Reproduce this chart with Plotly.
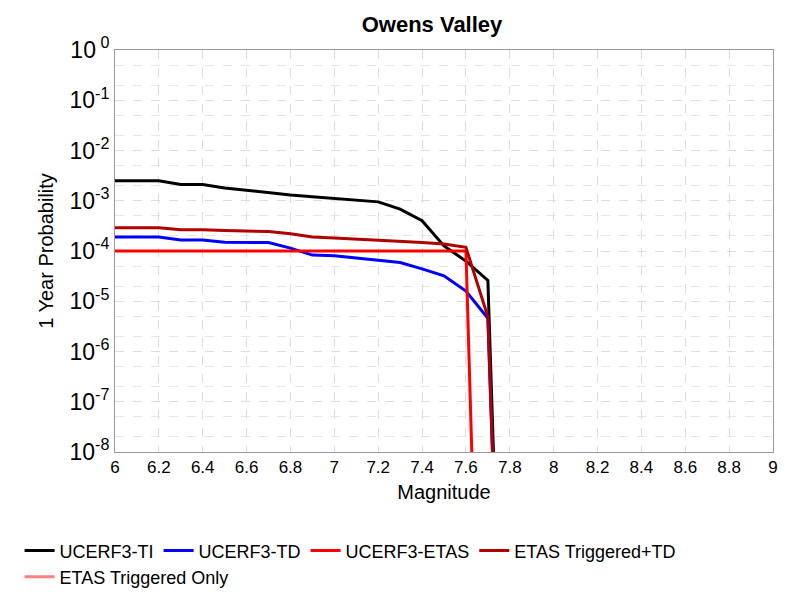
import plotly.graph_objects as go

mags = [6.0, 6.1, 6.2, 6.3, 6.4, 6.5, 6.6, 6.7, 6.8, 6.9, 7.0, 7.1, 7.2, 7.3, 7.4, 7.5, 7.6, 7.7, 7.8]

ucerf3_ti = [2.5e-3, 2.5e-3, 2.5e-3, 2.1e-3, 2.1e-3, 1.8e-3, 1.6e-3, 1.45e-3, 1.3e-3, 1.2e-3,
             1.12e-3, 1.05e-3, 9.5e-4, 6.8e-4, 4.0e-4, 1.26e-4, 6.3e-5, 2.6e-5, 1e-18]
ucerf3_td = [1.9e-4, 1.9e-4, 1.9e-4, 1.65e-4, 1.65e-4, 1.5e-4, 1.48e-4, 1.47e-4, 1.14e-4, 8.3e-5,
             8.0e-5, 7.2e-5, 6.6e-5, 5.9e-5, 4.4e-5, 3.2e-5, 1.6e-5, 4.6e-6, 1e-18]
ucerf3_etas = [1.0e-4] * 17 + [1e-19, 1e-19]
etas_trig_td = [2.9e-4, 2.9e-4, 2.9e-4, 2.65e-4, 2.65e-4, 2.55e-4, 2.5e-4, 2.45e-4, 2.2e-4, 1.9e-4,
                1.82e-4, 1.74e-4, 1.65e-4, 1.58e-4, 1.47e-4, 1.38e-4, 1.18e-4, 4.9e-6, 1e-18]
etas_trig_only = [None] * len(mags)

series = [
    ("UCERF3-TI", ucerf3_ti, "black", "legend"),
    ("UCERF3-TD", ucerf3_td, "blue", "legend"),
    ("UCERF3-ETAS", ucerf3_etas, "red", "legend"),
    ("ETAS Triggered+TD", etas_trig_td, "#b00000", "legend"),
    ("ETAS Triggered Only", etas_trig_only, "#ff8080", "legend2"),
]

y_tickvals = [10.0 ** -k for k in range(9)]
y_ticktext = ["10<sup> 0</sup>"] + [f"10<sup>-{k}</sup>" for k in range(1, 9)]

fig = go.Figure()
for name, vals, color, leg in series:
    fig.add_trace(go.Scatter(x=mags, y=vals, mode="lines", name=name, legend=leg,
                             line=dict(color=color, width=3)))

grid = dict(gridcolor="#dddddd", griddash="dash", gridwidth=1)
fig.update_xaxes(range=[6, 9], dtick=0.2, tickfont=dict(size=17),
                 title=dict(text="Magnitude", font=dict(size=20), standoff=8),
                 showline=True, linecolor="#999999", mirror=True, ticks="",
                 zeroline=False, automargin=False, **grid)
fig.update_yaxes(type="log", range=[-8, 0], tickvals=y_tickvals, ticktext=y_ticktext,
                 tickfont=dict(size=23),
                 title=dict(text="1 Year Probability", font=dict(size=20), standoff=10),
                 showline=True, linecolor="#999999", mirror=True, automargin=False,
                 minor=dict(showgrid=True, gridcolor="#e6e6e6", griddash="dash"),
                 **grid)
leg_common = dict(orientation="h", xanchor="left", yanchor="top",
                  font=dict(size=18), itemwidth=30, bgcolor="rgba(0,0,0,0)")
fig.update_layout(
    width=800, height=600,
    title=dict(text="<b>Owens Valley</b>", x=0.53, xanchor="center", y=0.985,
               font=dict(size=22)),
    font=dict(family="Liberation Sans, Arial, sans-serif", color="black"),
    plot_bgcolor="white", paper_bgcolor="white",
    margin=dict(l=94, r=35, t=42, b=124),
    legend=dict(x=-0.145, y=-0.2, **leg_common),
    legend2=dict(x=-0.145, y=-0.265, **leg_common),
)

fig.write_html("out.html")
